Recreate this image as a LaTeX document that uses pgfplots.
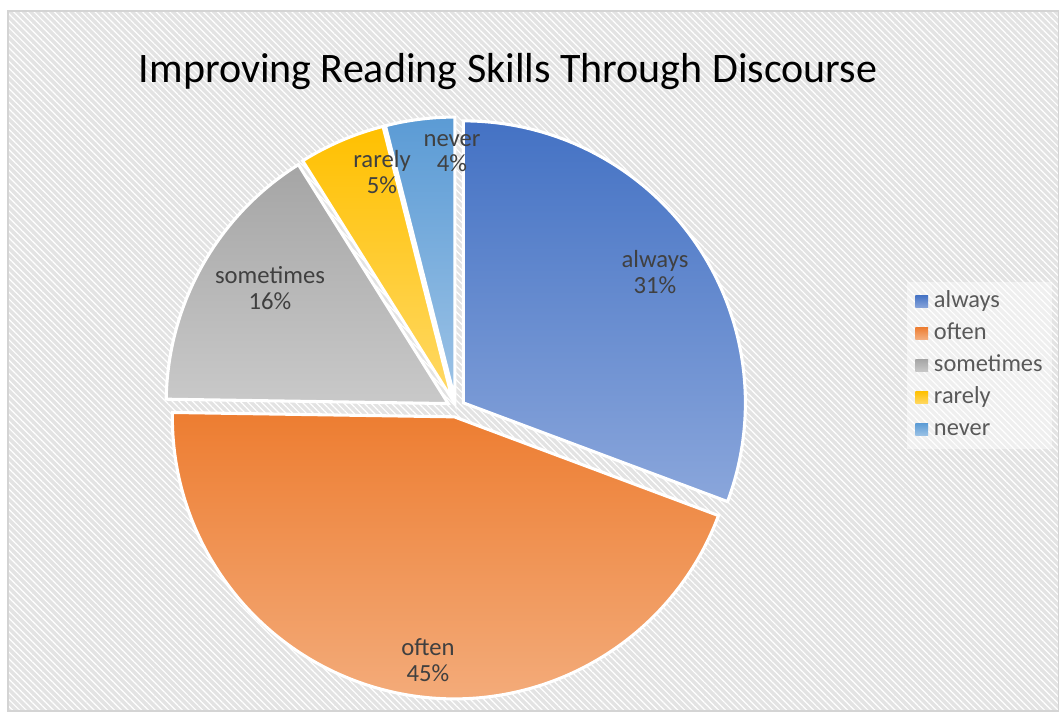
\documentclass[border=0pt]{standalone}
\usepackage{fontspec}
\setmainfont{Carlito}
\usepackage{pgfplots}
\usepackage{pgfplotstable}
\pgfplotsset{compat=1.18}
\usetikzlibrary{calc,patterns.meta}

\definecolor{cT0}{HTML}{4472C4}\definecolor{cB0}{HTML}{8AA6DB}
\definecolor{cT1}{HTML}{ED7D31}\definecolor{cB1}{HTML}{F4B183}
\definecolor{cT2}{HTML}{A5A5A5}\definecolor{cB2}{HTML}{C9C9C9}
\definecolor{cT3}{HTML}{FFC000}\definecolor{cB3}{HTML}{FFD966}
\definecolor{cT4}{HTML}{5B9BD5}\definecolor{cB4}{HTML}{9DC3E6}
\definecolor{bgc}{HTML}{E3E3E3}
\definecolor{bdc}{HTML}{D4D4D4}
\definecolor{labc}{HTML}{404040}
\definecolor{legc}{HTML}{595959}

% share of answers; lx, ly = where the data label sits (pixel grid, y up)
\pgfplotstableread{
label     value lx  ly
always    31    655 439
often     45    428 51
sometimes 16    270 423
rarely    5     382 539
never     4     452 558
}\piedata

\tikzset{lbl/.style={font=\fontsize{18.5}{19}\selectfont, text=labc, align=center}}

\begin{document}
\begin{tikzpicture}
\begin{axis}[
    width=794.25pt, height=533.25pt, scale only axis,
    xmin=0, xmax=1059, ymin=0, ymax=711,
    hide axis, clip=false,
    legend cell align=left,
    legend image code/.code={%
        \path[#1, draw=none, fill opacity=1] (0pt,-4.8pt) rectangle (9.6pt,4.8pt);
        \path[draw=none, fill=none] (0pt,0pt) rectangle (13pt,0pt);},
    legend style={at={(0.8565,0.6034)}, anchor=north west,
        fill=white, fill opacity=0.45, text opacity=1, draw=none,
        font=\fontsize{18.3}{20}\selectfont, text=legc,
        row sep=5pt, inner xsep=6pt, inner ysep=5pt,
        nodes={inner sep=1pt, text height=13pt, text depth=4pt}},
]
% chart area
\fill[bgc] (axis cs:8,0) rectangle (axis cs:1059,700);
\fill[pattern={Lines[angle=-45,distance=3.6pt,line width=0.9pt]}, pattern color=white]
    (axis cs:8,0) rectangle (axis cs:1059,700);
\draw[bdc, line width=0.8pt] (axis cs:8,0) rectangle (axis cs:1059,700);

\node[font=\fontsize{31.5}{36}\selectfont, anchor=base] at (axis cs:508,628)
    {Improving Reading Skills Through Discourse};

% total of all answers
\def\total{0}
\pgfplotsforeachungrouped \i in {0,...,4}{%
  \pgfplotstablegetelem{\i}{value}\of\piedata
  \pgfmathsetmacro\total{\total+\pgfplotsretval}%
}
% slices, pulled out a little along their middle
\def\acc{90}
\pgfplotsforeachungrouped \i in {0,...,4}{%
  \pgfplotstablegetelem{\i}{value}\of\piedata \let\val\pgfplotsretval
  \pgfplotstablegetelem{\i}{label}\of\piedata \let\lab\pgfplotsretval
  \pgfmathsetmacro\aend{\acc-360*\val/\total}%
  \pgfmathsetmacro\amid{(\acc+\aend)/2}%
  \edef\temp{%
    \noexpand\shadedraw[top color=cT\i, bottom color=cB\i, draw=white,
        line width=2.3pt, line join=miter]
      ($(axis cs:456,303)+(\amid:6.75pt)$) -- ++(\acc:211.5pt)
      arc[start angle=\acc, end angle=\aend, radius=211.5pt] -- cycle;
    \noexpand\addlegendimage{top color=cT\i, bottom color=cB\i}
    \noexpand\addlegendentry{\lab}
  }\temp
  \let\acc\aend
}
% data labels on top of all slices
\pgfplotsforeachungrouped \i in {0,...,4}{%
  \pgfplotstablegetelem{\i}{value}\of\piedata \let\val\pgfplotsretval
  \pgfplotstablegetelem{\i}{label}\of\piedata \let\lab\pgfplotsretval
  \pgfplotstablegetelem{\i}{lx}\of\piedata \let\lx\pgfplotsretval
  \pgfplotstablegetelem{\i}{ly}\of\piedata \let\ly\pgfplotsretval
  \edef\temp{%
    \noexpand\node[lbl] at (axis cs:\lx,\ly) {\lab\noexpand\\\val\noexpand\%};
  }\temp
}
\end{axis}
\pgfresetboundingbox
\useasboundingbox (current axis.south west) rectangle (current axis.north east);
\end{tikzpicture}
\end{document}
